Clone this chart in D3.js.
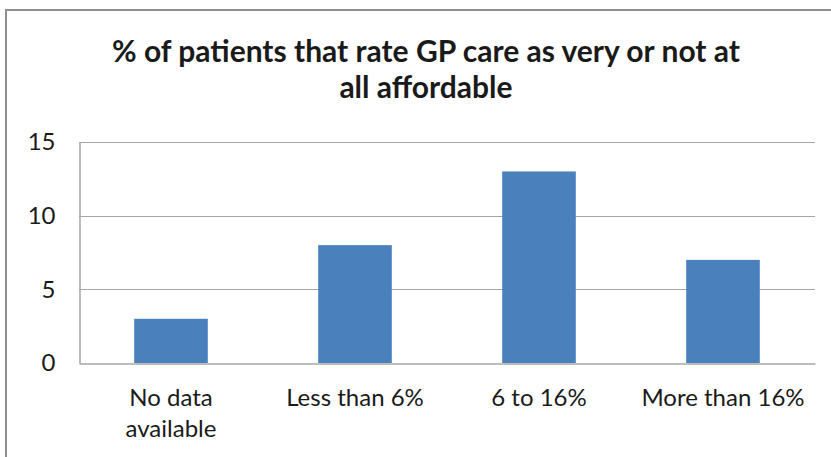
<!DOCTYPE html>
<html>
<head>
<meta charset="utf-8">
<script src="https://cdn.jsdelivr.net/npm/d3@7"></script>
<style>
  html, body { margin: 0; padding: 0; background: #fff; }
  svg { display: block; }
  text { font-family: Lato, "Open Sans", sans-serif; fill: #1a1a1a; }
</style>
</head>
<body>
<script>
// Share of patients rating GP care as very or not at all affordable
const categories = ["No data available", "Less than 6%", "6 to 16%", "More than 16%"];
const values = [3, 8, 13, 7];
const yTicks = [0, 5, 10, 15];
const titleLines = ["% of patients that rate GP care as very or not at", "all affordable"];
// category labels broken into lines
const categoryLines = [["No data", "available"], ["Less than 6%"], ["6 to 16%"], ["More than 16%"]];

const W = 831, H = 457;
const margin = { left: 79, right: 16, top: 142, bottom: 94 };

const svg = d3.select("body").append("svg")
  .attr("width", W).attr("height", H);

// chart frame
svg.append("rect")
  .attr("x", 6).attr("y", 10)
  .attr("width", W + 10).attr("height", H + 10)
  .attr("fill", "#fff")
  .attr("stroke", "#8f8f8f")
  .attr("stroke-width", 2);

// title
const title = svg.append("text")
  .attr("text-anchor", "middle")
  .attr("font-weight", "bold")
  .attr("font-size", 30)
  .attr("fill", "#0d0d0d");
titleLines.forEach((t, i) => {
  title.append("tspan").attr("x", 426).attr("y", 62 + i * 36).text(t);
});

const x = d3.scaleBand()
  .domain(categories)
  .range([margin.left, W - margin.right])
  .paddingInner(0.6)
  .paddingOuter(0.3);

const y = d3.scaleLinear()
  .domain([0, 15])
  .range([H - margin.bottom, margin.top]);

// horizontal gridlines
svg.append("g")
  .selectAll("line")
  .data(yTicks.filter(d => d > 0))
  .join("line")
  .attr("x1", margin.left).attr("x2", W - margin.right)
  .attr("y1", d => Math.round(y(d)) + 0.5).attr("y2", d => Math.round(y(d)) + 0.5)
  .attr("stroke", "#a6a6a6").attr("stroke-width", 1);

// bars
svg.append("g")
  .selectAll("rect")
  .data(values)
  .join("rect")
  .attr("x", (d, i) => x(categories[i]))
  .attr("y", d => y(d))
  .attr("width", x.bandwidth())
  .attr("height", d => y(0) - y(d))
  .attr("fill", "#4a81bd");

// y axis
const yAxis = svg.append("g")
  .attr("transform", `translate(${margin.left + 0.5},0)`)
  .call(d3.axisLeft(y).tickValues(yTicks).tickSize(0).tickPadding(24));
yAxis.select(".domain").attr("stroke", "#a6a6a6").attr("stroke-width", 1.5);
yAxis.selectAll("text")
  .attr("font-family", "Lato, sans-serif")
  .attr("font-size", 24)
  .attr("fill", "#1a1a1a");

// x axis
const xAxis = svg.append("g")
  .attr("transform", `translate(0,${Math.round(y(0)) + 0.5})`)
  .call(d3.axisBottom(x).tickSize(0).tickFormat(() => ""));
xAxis.select(".domain").attr("stroke", "#a6a6a6").attr("stroke-width", 1.5);

// category labels
const lbl = svg.append("g")
  .selectAll("text")
  .data(categories)
  .join("text")
  .attr("text-anchor", "middle")
  .attr("font-size", 24);
lbl.each(function(d, i) {
  const cx = x(d) + x.bandwidth() / 2;
  categoryLines[i].forEach((t, j) => {
    d3.select(this).append("tspan")
      .attr("x", cx)
      .attr("y", 406 + j * 31)
      .text(t);
  });
});
</script>
</body>
</html>
